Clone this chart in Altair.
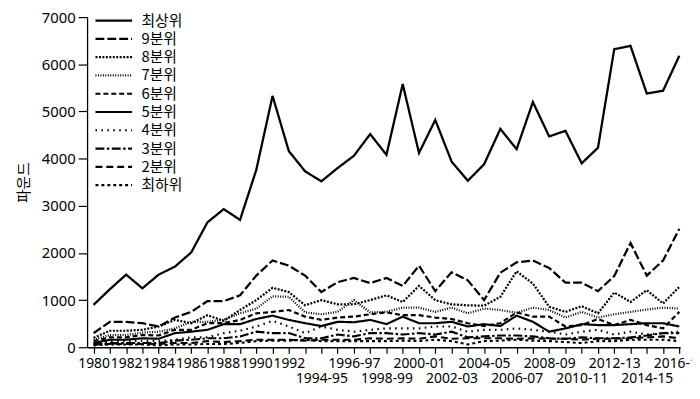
import altair as alt
import pandas as pd

periods = ["1980", "1981", "1982", "1983", "1984", "1985", "1986", "1987", "1988",
           "1989", "1990", "1991", "1992", "1993-94", "1994-95", "1995-96", "1996-97",
           "1997-98", "1998-99", "1999-00", "2000-01", "2001-02", "2002-03", "2003-04",
           "2004-05", "2005-06", "2006-07", "2007-08", "2008-09", "2009-10", "2010-11",
           "2011-12", "2012-13", "2013-14", "2014-15", "2015-16", "2016-17"]

top_row_labels = ["1980", "1982", "1984", "1986", "1988", "1990", "1992", "1996-97",
                  "2000-01", "2004-05", "2008-09", "2012-13", "2016-17"]
bottom_row_labels = ["1994-95", "1998-99", "2002-03", "2006-07", "2010-11", "2014-15"]

names = ["최상위", "9분위", "8분위", "7분위", "6분위", "5분위", "4분위", "3분위", "2분위", "최하위"]

top = [900, 1230, 1540, 1250, 1540, 1710, 2010, 2650, 2930, 2700, 3760, 5330, 4160, 3730,
       3520, 3800, 4060, 4520, 4080, 5580, 4120, 4820, 3940, 3530, 3880, 4630, 4200, 5200,
       4470, 4590, 3900, 4230, 6320, 6390, 5380, 5440, 6180]
d9 = [300, 540, 540, 510, 440, 630, 750, 980, 980, 1100, 1520, 1840, 1730, 1520, 1170,
      1380, 1470, 1360, 1470, 1300, 1730, 1190, 1590, 1420, 1000, 1580, 1800, 1840, 1680,
      1370, 1370, 1190, 1510, 2210, 1520, 1840, 2510]
d8 = [200, 350, 350, 370, 440, 580, 510, 680, 560, 790, 1000, 1260, 1170, 890, 1000, 910,
      910, 1000, 1100, 960, 1300, 1000, 910, 890, 880, 1070, 1610, 1350, 860, 750, 870,
      720, 1160, 960, 1210, 930, 1280]
d7 = [160, 260, 260, 310, 330, 400, 540, 540, 580, 720, 820, 1080, 1070, 740, 700, 750,
      1000, 740, 750, 840, 840, 750, 840, 720, 820, 790, 730, 840, 790, 630, 750, 630, 700,
      750, 800, 840, 820]
d6 = [130, 210, 210, 260, 250, 370, 370, 510, 510, 580, 720, 750, 790, 650, 580, 630, 650,
      700, 740, 680, 680, 630, 600, 510, 450, 510, 740, 650, 650, 440, 470, 600, 470, 580,
      470, 400, 750]
d5 = [90, 160, 160, 190, 180, 300, 330, 370, 490, 490, 600, 670, 580, 510, 450, 540, 530,
      580, 490, 650, 510, 510, 540, 440, 490, 450, 670, 540, 330, 400, 490, 470, 470, 490,
      510, 510, 440]
d4 = [70, 130, 130, 140, 130, 160, 210, 210, 300, 350, 440, 560, 440, 300, 440, 370, 330,
      370, 400, 400, 400, 440, 440, 330, 370, 370, 400, 370, 330, 270, 330, 370, 270, 330,
      270, 300, 330]
d3 = [60, 90, 90, 90, 90, 140, 160, 190, 190, 230, 330, 300, 300, 190, 190, 270, 230, 300,
      300, 270, 300, 270, 330, 210, 230, 250, 250, 230, 190, 180, 210, 190, 190, 210, 250,
      300, 300]
d2 = [60, 70, 70, 70, 70, 90, 90, 130, 110, 130, 160, 160, 160, 140, 160, 160, 160, 190,
      180, 190, 180, 230, 180, 190, 190, 190, 180, 190, 180, 180, 160, 180, 180, 190, 210,
      230, 190]
d1 = [40, 60, 60, 60, 40, 60, 60, 70, 70, 90, 130, 140, 140, 160, 130, 130, 130, 130, 130,
      140, 130, 160, 130, 60, 130, 140, 160, 140, 130, 110, 90, 130, 130, 160, 160, 160, 130]

series_values = [top, d9, d8, d7, d6, d5, d4, d3, d2, d1]

dash_range = [[1, 0], [9, 3], [2, 1.5], [1, 1.5], [5, 3], [1, 0], [1.6, 4.4],
              [9, 2.5, 2.5, 2.5], [7, 4], [3, 3]]
width_range = [2.3, 2.1, 2.6, 1.1, 1.0, 1.0, 2.8, 2.4, 2.1, 2.0]

rows = []
for name, vals in zip(names, series_values):
    for i, v in enumerate(vals):
        rows.append({"idx": i, "period": periods[i], "series": name, "value": v})
df = pd.DataFrame(rows)

lab_js = "[" + ",".join("'%s'" % p for p in periods) + "]"
top_js = "[" + ",".join("'%s'" % p for p in top_row_labels) + "]"
bot_js = "[" + ",".join("'%s'" % p for p in bottom_row_labels) + "]"
label_expr = (
    f"indexof({top_js}, {lab_js}[datum.value]) >= 0 ? {lab_js}[datum.value] : "
    f"(indexof({bot_js}, {lab_js}[datum.value]) >= 0 ? ['', {lab_js}[datum.value]] : '')"
)

font = "Noto Sans"
kfont = "Noto Sans CJK KR"

leg = alt.Legend(title=None, orient="none", legendX=7, legendY=-5,
                 clipHeight=17, rowPadding=1.5)

chart = alt.Chart(df).mark_line(color="black").encode(
    x=alt.X("idx:Q",
            scale=alt.Scale(domain=[-0.4, 36.05], nice=False, zero=False),
            axis=alt.Axis(values=list(range(37)), labelExpr=label_expr, title=None,
                          grid=False, tickSize=6, labelPadding=3, labelLineHeight=16,
                          labelFontSize=14, labelFont=font, labelOverlap=False,
                          labelFlush=False, labelBound=False, labelColor="black",
                          domainColor="black", tickColor="black", domainWidth=1.3,
                          tickWidth=1.2)),
    y=alt.Y("value:Q",
            scale=alt.Scale(domain=[0, 7000], nice=False),
            axis=alt.Axis(values=[0, 1000, 2000, 3000, 4000, 5000, 6000, 7000],
                          format="d",
                          title="파운드", titleFont=kfont, titleFontSize=15,
                          titleFontWeight="normal", titleColor="black", titlePadding=10,
                          grid=False, tickSize=9, labelPadding=3, labelFontSize=15,
                          labelFont=font, labelColor="black", domainColor="black",
                          tickColor="black", domainWidth=1.3, tickWidth=1.2)),
    strokeDash=alt.StrokeDash("series:N",
                              scale=alt.Scale(domain=names, range=dash_range),
                              sort=names, legend=leg),
    strokeWidth=alt.StrokeWidth("series:N",
                                scale=alt.Scale(domain=names, range=width_range),
                                sort=names, legend=leg),
    order="idx:Q",
).properties(
    width=600, height=334,
    autosize=alt.AutoSizeParams(type="none"),
    padding={"left": 80, "top": 7, "right": 12, "bottom": 40},
).configure_view(stroke=None).configure_legend(
    symbolType="stroke", symbolSize=1369, symbolStrokeColor="black",
    labelFont=kfont, labelFontSize=15, labelColor="black", labelOffset=8,
)

chart.save("out.html", embed_options={"renderer": "svg", "actions": False})
